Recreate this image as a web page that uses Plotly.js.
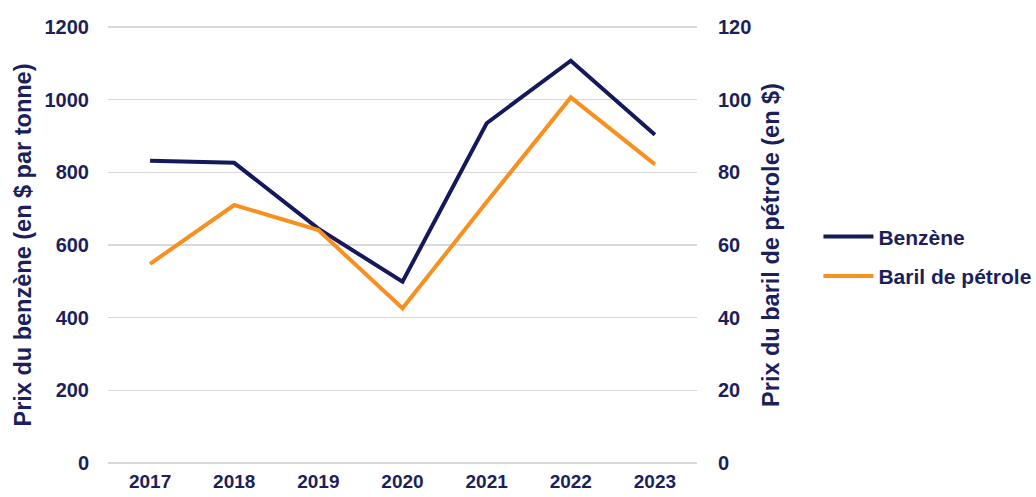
<!DOCTYPE html>
<html>
<head>
<meta charset="utf-8">
<script src="https://cdn.plot.ly/plotly-3.0.1.min.js"></script>
<style>html,body{margin:0;padding:0;background:#fff;}#chart{width:1036px;height:497px;}</style>
</head>
<body>
<div id="chart"></div>
<script>
const years = ["2017", "2018", "2019", "2020", "2021", "2022", "2023"];
const benzene = [832, 826, 645, 499, 935, 1107, 903];
const baril = [54.8, 71.0, 64.1, 42.6, 71.8, 100.6, 82.2];
const leftTicks = [0, 200, 400, 600, 800, 1000, 1200];
const rightTicks = [0, 20, 40, 60, 80, 100, 120];

const navy = "#15185a";
const orange = "#f7901e";
const textColor = "#1b1f5c";
const font = "Liberation Sans, Arial, sans-serif";

const traces = [
  {x: years, y: benzene, name: "Benzène", type: "scatter", mode: "lines",
   line: {color: navy, width: 4}, yaxis: "y", legendgroup: "a"},
  {x: years, y: baril, name: "Baril de pétrole", type: "scatter", mode: "lines",
   line: {color: orange, width: 4}, yaxis: "y2", legendgroup: "b"}
];

const layout = {
  width: 1036, height: 497,
  margin: {l: 108, r: 339, t: 24, b: 31},
  paper_bgcolor: "#fff", plot_bgcolor: "#fff",
  font: {family: font, color: textColor, size: 20, weight: "bold"},
  showlegend: true,
  legend: {xref: "container", yref: "container", x: 0.79, xanchor: "left", y: 0.484, yanchor: "middle",
           font: {family: font, size: 21, color: textColor, weight: "bold"},
           traceorder: "grouped", tracegroupgap: 9, itemwidth: 50},
  xaxis: {type: "category", range: [-0.5, 6.5], showgrid: false, zeroline: false, showline: false,
          automargin: false,
          ticks: "", tickfont: {family: font, size: 19, color: textColor, weight: "bold"},
          ticklabelstandoff: 2},
  yaxis: {range: [-8, 1208], tickvals: leftTicks, showgrid: true, gridcolor: "#d9d9d9", gridwidth: 1.5,
          zeroline: false, showline: false, ticks: "", automargin: false,
          tickfont: {family: font, size: 20, color: textColor, weight: "bold"},
          ticklabelstandoff: 18,
          title: {text: "Prix du benzène (en $ par tonne)", standoff: 6,
                  font: {family: font, size: 23.5, color: textColor, weight: "bold"}}},
  yaxis2: {range: [-0.8, 120.8], tickvals: rightTicks, overlaying: "y", side: "right",
           showgrid: false, zeroline: false, showline: false, ticks: "", automargin: false,
           tickfont: {family: font, size: 20, color: textColor, weight: "bold"},
           ticklabelstandoff: 20,
           title: {text: "Prix du baril de pétrole (en $)", standoff: 12,
                   font: {family: font, size: 23.5, color: textColor, weight: "bold"}}}
};

Plotly.newPlot("chart", traces, layout, {displayModeBar: false, staticPlot: true});
</script>
</body>
</html>
